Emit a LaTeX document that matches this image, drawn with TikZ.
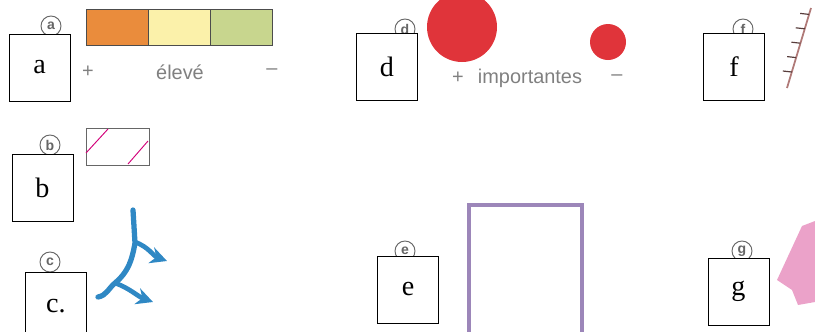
\documentclass[tikz,border=0pt]{standalone}
\usepackage{fontspec}
\setmainfont{Liberation Serif}
\newfontfamily\handfont{Liberation Sans}
\usetikzlibrary{arrows.meta, positioning, calc}
\definecolor{barorange}{HTML}{EA8C3C}
\definecolor{baryellow}{HTML}{FBF1AA}
\definecolor{bargreen}{HTML}{C8D68E}
\definecolor{branchblue}{HTML}{2F88C4}
\definecolor{dotred}{HTML}{E0343A}
\definecolor{framepurple}{HTML}{9C86B9}
\definecolor{cliffbrown}{HTML}{B07A78}
\definecolor{patchpink}{HTML}{EBA2C9}

\begin{document}
\begin{tikzpicture}[x=0.03cm, y=-0.03cm,
    tag/.style={draw, fill=white, minimum width=1.83cm, minimum height=2.01cm, inner sep=0pt,
        font=\fontsize{24}{28}\selectfont},
    ring/.style={circle, draw=gray!80!black, line width=0.8pt, minimum size=0.6cm, inner sep=0pt,
        text=gray!80!black, font=\handfont\bfseries\fontsize{12}{12}\selectfont},
    hand/.style={text=gray, font=\handfont\fontsize{17}{20}\selectfont}]
    \useasboundingbox (0,0) rectangle (815,331);
    \clip (0,0) rectangle (815,331);

    % a: colour bar
    \filldraw[fill=barorange, draw=black!70] (86,9) rectangle (148,45);
    \filldraw[fill=baryellow, draw=black!70] (148,9) rectangle (210,45);
    \filldraw[fill=bargreen, draw=black!70] (210,9) rectangle (272,45);
    \node[hand] (aplus) at (88,72) {+};
    \node[hand] (alabel) at (180,72) {élevé};
    \node[hand] (aminus) at (272,72) {–};

    % b: hatched rectangle
    \draw[black!60] (86,128) rectangle (149,165);
    \draw[purple!70!magenta, thick] (86,153) -- (108,129);
    \draw[purple!70!magenta, thick] (128,164) -- (148,141);

    % c: blue branch
    \draw[branchblue, line width=4.5pt, line cap=round]
        (133,210) -- (135,243) to[out=260, in=40] (115,283) to[out=220, in=10] (98,297);
    \draw[branchblue, line width=4pt, -{Stealth[length=5mm, width=5mm]}]
        (135,242) to[out=-20, in=160] (167,261);
    \draw[branchblue, line width=4pt, -{Stealth[length=5mm, width=5mm]}]
        (115,283) to[out=-20, in=160] (153,302);

    % d: red dots
    \fill[dotred] (462,27) circle (35);
    \fill[dotred] (608,42) circle (18);
    \node[hand] (dplus) at (458,78) {+};
    \node[hand] (dlabel) at (530,78) {importantes};
    \node[hand] (dminus) at (617,78) {–};

    % e: purple frame
    \draw[framepurple, line width=3pt] (469,205) rectangle (582,340);

    % f: hatched cliff line
    \coordinate (f1) at (787,88);
    \coordinate (f2) at (811,8);
    \draw[cliffbrown, line width=1.5pt] (f1) -- (f2);
    \foreach \t in {0.2,0.38,0.56,0.74,0.92}
        \draw[cliffbrown!50!black, line width=1pt] ($(f1)!\t!(f2)$) -- ++(-9,-1);

    % g: pink patch
    \fill[patchpink] (777,280) -- (802,226) -- (815,221) -- (815,302)
        -- (798,305) -- (792,290) -- cycle;

    % circled letters
    \node[ring] (ra) at (51,26) {a};
    \node[ring] (rb) at (50,145) {b};
    \node[ring] (rc) at (50,262) {c};
    \node[ring] (rd) at (405,29) {d};
    \node[ring] (re) at (405,251) {e};
    \node[ring] (rf) at (743,29) {f};
    \node[ring] (rg) at (742,251) {g};

    % label boxes
    \node[tag] (a) at (39.5,67.5) {a};
    \node[tag] (b) at (42.5,188) {b};
    \node[tag] (c) at (56,306) {c.};
    \node[tag] (d) at (387,67) {d};
    \node[tag] (e) at (408,289.5) {e};
    \node[tag] (f) at (734,67) {f};
    \node[tag] (g) at (738.5,291.5) {g};
\end{tikzpicture}
\end{document}
